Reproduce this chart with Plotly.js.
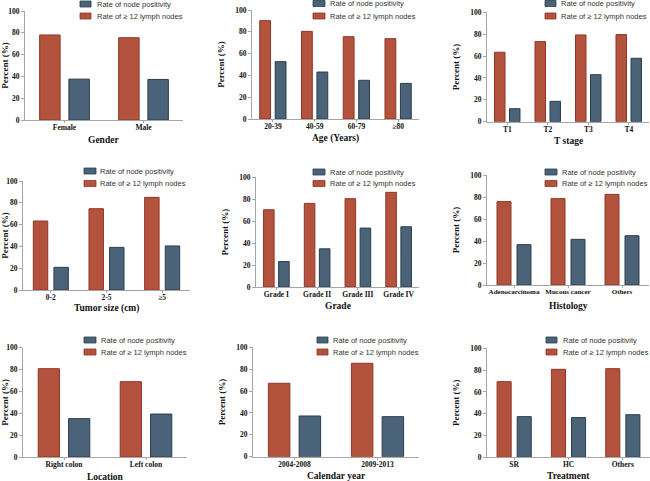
<!DOCTYPE html>
<html>
<head>
<meta charset="utf-8">
<script src="https://cdn.plot.ly/plotly-3.0.1.min.js"></script>
<style>html,body{margin:0;padding:0;background:#fff;}#chart{width:650px;height:481px;}</style>
</head>
<body>
<div id="chart"></div>
<script>
// ---- data ----
const genderCats = ["Female", "Male"];
const genderLymph = [78, 75.5];
const genderPos = [37.5, 37.2];

const ageCats = ["20-39", "40-59", "60-79", "\u226580"];
const ageLymph = [90.2, 80.4, 75.5, 73.7];
const agePos = [52.6, 43.1, 35.5, 32.7];

const tCats = ["T1", "T2", "T3", "T4"];
const tLymph = [63.5, 73.2, 79.3, 79.6];
const tPos = [11.9, 18.6, 43, 58];

const sizeCats = ["0-2", "2-5", "\u22655"];
const sizeLymph = [63.3, 74.6, 85];
const sizePos = [20.8, 39.1, 40.4];

const gradeCats = ["Grade I", "Grade II", "Grade III", "Grade IV"];
const gradeLymph = [70.4, 76.2, 80.5, 86.3];
const gradePos = [23.2, 34.8, 53.7, 54.9];

const histCats = ["Adenocarcinoma", "Mucous cancer", "Others"];
const histLymph = [75.8, 78.5, 82.4];
const histPos = [36.7, 41.5, 44.8];

const locCats = ["Right colon", "Left colon"];
const locLymph = [80.8, 68.9];
const locPos = [35.1, 39.3];

const yearCats = ["2004-2008", "2009-2013"];
const yearLymph = [67.1, 85.4];
const yearPos = [37.2, 36.6];

const treatCats = ["SR", "HC", "Others"];
const treatLymph = [69.4, 80.7, 81.3];
const treatPos = [37.3, 36.4, 39.1];

const xTitles = ["Gender", "Age (Years)", "T stage", "Tumor size (cm)", "Grade", "Histology", "Location", "Calendar year", "Treatment"];
const seriesNames = ["Rate of \u2265 12 lymph nodes", "Rate of node positivity"];
const yTitle = "Percent (%)";
const yTicks = [0, 20, 40, 60, 80, 100];

const panels = [
  [genderCats, genderLymph, genderPos],
  [ageCats, ageLymph, agePos],
  [tCats, tLymph, tPos],
  [sizeCats, sizeLymph, sizePos],
  [gradeCats, gradeLymph, gradePos],
  [histCats, histLymph, histPos],
  [locCats, locLymph, locPos],
  [yearCats, yearLymph, yearPos],
  [treatCats, treatLymph, treatPos]
];

// ---- layout geometry (pixels) ----
const W = 650, H = 481;
// [left, right, top(100), bottom(0)]
const boxes = [
  [25, 183, 11, 120], [252, 419, 10, 119], [487, 649, 12.3, 121.7],
  [23, 190, 181, 290], [256, 419, 177.3, 287], [487, 649, 175, 285],
  [23, 187, 347.7, 457], [253, 419, 347.3, 456.7], [487, 650, 348.3, 457.3]
];
const titleOffsets = [20, 19, 19, 18, 19, 21, 20, 19, 19];
// legend: swatch left x, first swatch top y, swatch width, row spacing, text x
const legends = [
  [80, 1, 11, 12, 96], [313, 0.5, 12, 12.5, 329], [545, 0.5, 11, 12.5, 560],
  [84, 168, 12, 12.5, 99], [313, 169, 12, 11.5, 329], [545, 169, 12, 11.5, 561],
  [84, 337, 12, 12, 100], [317, 337, 11, 12, 332], [546, 337, 11, 12, 562]
];
const SW_H = 6;

const RED = "#b4533d", RED_LINE = "#8e3626";
const BLUE = "#4a6379", BLUE_LINE = "#2c3d4d";
const AXIS = "#a6a6a6";
const serif = "Times New Roman, Liberation Serif, serif";
const sans = "Arial, Liberation Sans, sans-serif";

const traces = [];
const shapes = [];
const annotations = [];
const layout = {
  width: W, height: H,
  margin: {l: 0, r: 0, t: 0, b: 0},
  paper_bgcolor: "#fff", plot_bgcolor: "#fff",
  barmode: "group", bargap: 0.26, bargroupgap: 0.3,
  showlegend: false
};

panels.forEach((p, i) => {
  const n = i === 0 ? "" : String(i + 1);
  const xa = "x" + n, ya = "y" + n;
  traces.push({
    type: "bar", x: p[0], y: p[1], name: seriesNames[0],
    xaxis: xa, yaxis: ya,
    marker: {color: RED, line: {color: RED_LINE, width: 1}}
  });
  traces.push({
    type: "bar", x: p[0], y: p[2], name: seriesNames[1],
    xaxis: xa, yaxis: ya,
    marker: {color: BLUE, line: {color: BLUE_LINE, width: 1}}
  });
  const b = boxes[i];
  layout["xaxis" + n] = {
    domain: [b[0] / W, b[1] / W], anchor: ya,
    type: "category", tickangle: 0,
    showline: true, linecolor: AXIS, linewidth: 1,
    ticks: "outside", ticklen: 2, tickcolor: AXIS, ticklabelstandoff: -2,
    showgrid: false, zeroline: false, fixedrange: true,
    tickfont: {family: serif, size: i === 5 ? 7 : 7.5, color: "#111", weight: "bold"}
  };
  layout["yaxis" + n] = {
    domain: [1 - b[3] / H, 1 - b[2] / H], anchor: xa,
    range: [0, 100], tickvals: yTicks,
    showline: true, linecolor: AXIS, linewidth: 1,
    ticks: "outside", ticklen: 3, tickcolor: AXIS,
    showgrid: false, zeroline: false, fixedrange: true,
    tickfont: {family: serif, size: 7.5, color: "#111", weight: "bold"},
    title: {text: yTitle, font: {family: serif, size: 9, color: "#111", weight: "bold"}}
  };
  // x-axis title, placed below the axis
  annotations.push({
    xref: xa + " domain", yref: ya + " domain", x: 0.5, y: 0,
    yshift: -titleOffsets[i], xanchor: "center", yanchor: "middle",
    showarrow: false, text: xTitles[i],
    font: {family: serif, size: 9.5, color: "#111", weight: "bold"}
  });
  // legend (positive first, then lymph nodes)
  const lg = legends[i];
  const order = [[seriesNames[1], BLUE, BLUE_LINE], [seriesNames[0], RED, RED_LINE]];
  order.forEach((it, k) => {
    const top = lg[1] + k * lg[3];
    shapes.push({
      type: "rect", xref: "paper", yref: "paper",
      x0: lg[0] / W, x1: (lg[0] + lg[2]) / W,
      y0: 1 - (top + SW_H) / H, y1: 1 - top / H,
      fillcolor: it[1], line: {color: it[2], width: 0.8}
    });
    annotations.push({
      xref: "paper", yref: "paper", x: lg[4] / W, y: 1 - (top + SW_H / 2) / H,
      xanchor: "left", yanchor: "middle", showarrow: false, borderpad: 0,
      text: it[0], font: {family: sans, size: 7.5, color: "#333"}
    });
  });
});
layout.shapes = shapes;
layout.annotations = annotations;

Plotly.newPlot("chart", traces, layout, {displayModeBar: false, staticPlot: true});
</script>
</body>
</html>
